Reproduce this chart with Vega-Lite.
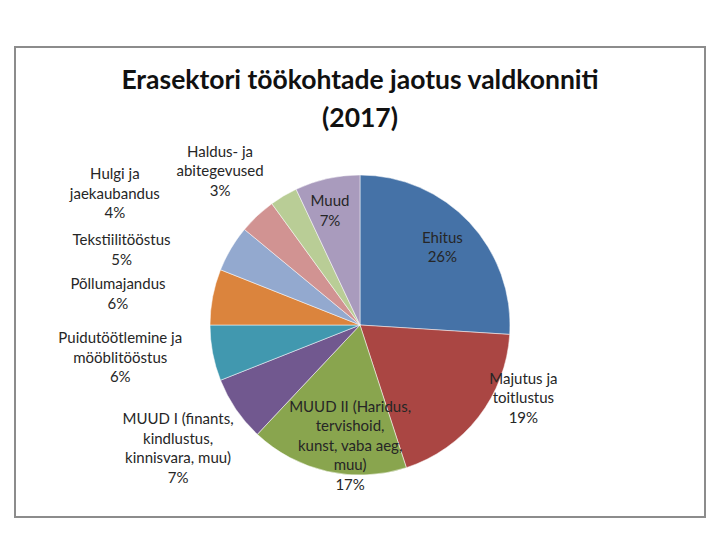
{
  "$schema": "https://vega.github.io/schema/vega-lite/v6.json",
  "width": 690,
  "height": 470,
  "autosize": {"type": "none"},
  "padding": {"left": 15, "top": 47, "right": 15, "bottom": 23},
  "background": "white",
  "view": {"stroke": "#8c8c8c", "strokeWidth": 2},
  "config": {
    "view": {"stroke": "#8c8c8c", "strokeWidth": 2},
    "font": "Lato",
    "text": {"font": "Lato", "fontSize": 15, "lineBreak": "\n", "lineHeight": 19.5, "color": "#262626", "align": "center", "baseline": "middle"}
  },
  "title": {
    "text": ["Erasektori töökohtade jaotus valdkonniti", "(2017)"],
    "font": "Lato",
    "fontSize": 26.5,
    "fontWeight": "bold",
    "lineHeight": 38,
    "color": "#111111",
    "anchor": "middle",
    "frame": "group",
    "baseline": "top",
    "offset": -85
  },
  "data": {
    "values": [
      {"i": 1, "cat": "Ehitus", "v": 26, "label": "Ehitus\n26%"},
      {"i": 2, "cat": "Majutus ja toitlustus", "v": 19, "label": "Majutus ja\ntoitlustus\n19%"},
      {"i": 3, "cat": "MUUD II", "v": 17, "label": "MUUD II (Haridus,\ntervishoid,\nkunst, vaba aeg,\nmuu)\n17%"},
      {"i": 4, "cat": "MUUD I", "v": 7, "label": "MUUD I (finants,\nkindlustus,\nkinnisvara, muu)\n7%"},
      {"i": 5, "cat": "Puidutöötlemine ja mööblitööstus", "v": 6, "label": "Puidutöötlemine ja\nmööblitööstus\n6%"},
      {"i": 6, "cat": "Põllumajandus", "v": 6, "label": "Põllumajandus\n6%"},
      {"i": 7, "cat": "Tekstiilitööstus", "v": 5, "label": "Tekstiilitööstus\n5%"},
      {"i": 8, "cat": "Hulgi ja jaekaubandus", "v": 4, "label": "Hulgi  ja\njaekaubandus\n4%"},
      {"i": 9, "cat": "Haldus- ja abitegevused", "v": 3, "label": "Haldus- ja\nabitegevused\n3%"},
      {"i": 10, "cat": "Muud", "v": 7, "label": "Muud\n7%"}
    ]
  },
  "encoding": {
    "theta": {"field": "v", "type": "quantitative", "stack": true},
    "order": {"field": "i", "type": "quantitative"}
  },
  "layer": [
    {
      "mark": {"type": "arc", "outerRadius": 150, "y": 278, "stroke": "#ffffff", "strokeWidth": 0.5},
      "encoding": {
        "color": {
          "field": "cat",
          "type": "nominal",
          "legend": null,
          "scale": {
            "domain": ["Ehitus", "Majutus ja toitlustus", "MUUD II", "MUUD I", "Puidutöötlemine ja mööblitööstus", "Põllumajandus", "Tekstiilitööstus", "Hulgi ja jaekaubandus", "Haldus- ja abitegevused", "Muud"],
            "range": ["#4572A7", "#AA4643", "#89A54E", "#71588F", "#4198AF", "#DB843D", "#93A9CF", "#D19392", "#B9CD96", "#A99BBD"]
          }
        }
      }
    },
    {
      "mark": {"type": "text", "y": 278, "radius": 113, "thetaOffset": 0, "dy": -9.75},
      "encoding": {"detail": {"field": "cat"}, "text": {"condition": {"test": "datum.i === 1", "field": "label"}, "value": ""}}
    },
    {
      "mark": {"type": "text", "y": 278, "radius": 179, "thetaOffset": -0.239, "dy": -19.5},
      "encoding": {"detail": {"field": "cat"}, "text": {"condition": {"test": "datum.i === 2", "field": "label"}, "value": ""}}
    },
    {
      "mark": {"type": "text", "y": 278, "radius": 121, "thetaOffset": -0.138, "dy": -39},
      "encoding": {"detail": {"field": "cat"}, "text": {"condition": {"test": "datum.i === 3", "field": "label"}, "value": ""}}
    },
    {
      "mark": {"type": "text", "y": 278, "radius": 220, "thetaOffset": 0, "dy": -29.25},
      "encoding": {"detail": {"field": "cat"}, "text": {"condition": {"test": "datum.i === 4", "field": "label"}, "value": ""}}
    },
    {
      "mark": {"type": "text", "y": 278, "radius": 242, "thetaOffset": 0.052, "dy": -19.5},
      "encoding": {"detail": {"field": "cat"}, "text": {"condition": {"test": "datum.i === 5", "field": "label"}, "value": ""}}
    },
    {
      "mark": {"type": "text", "y": 278, "radius": 244, "thetaOffset": -0.061, "dy": -9.75},
      "encoding": {"detail": {"field": "cat"}, "text": {"condition": {"test": "datum.i === 6", "field": "label"}, "value": ""}}
    },
    {
      "mark": {"type": "text", "y": 278, "radius": 250, "thetaOffset": -0.229, "dy": -9.75},
      "encoding": {"detail": {"field": "cat"}, "text": {"condition": {"test": "datum.i === 7", "field": "label"}, "value": ""}}
    },
    {
      "mark": {"type": "text", "y": 278, "radius": 278, "thetaOffset": -0.326, "dy": -19.5},
      "encoding": {"detail": {"field": "cat"}, "text": {"condition": {"test": "datum.i === 8", "field": "label"}, "value": ""}}
    },
    {
      "mark": {"type": "text", "y": 278, "radius": 208, "thetaOffset": -0.204, "dy": -19.5},
      "encoding": {"detail": {"field": "cat"}, "text": {"condition": {"test": "datum.i === 9", "field": "label"}, "value": ""}}
    },
    {
      "mark": {"type": "text", "y": 278, "radius": 118, "thetaOffset": -0.037, "dy": -9.75},
      "encoding": {"detail": {"field": "cat"}, "text": {"condition": {"test": "datum.i === 10", "field": "label"}, "value": ""}}
    }
  ]
}
